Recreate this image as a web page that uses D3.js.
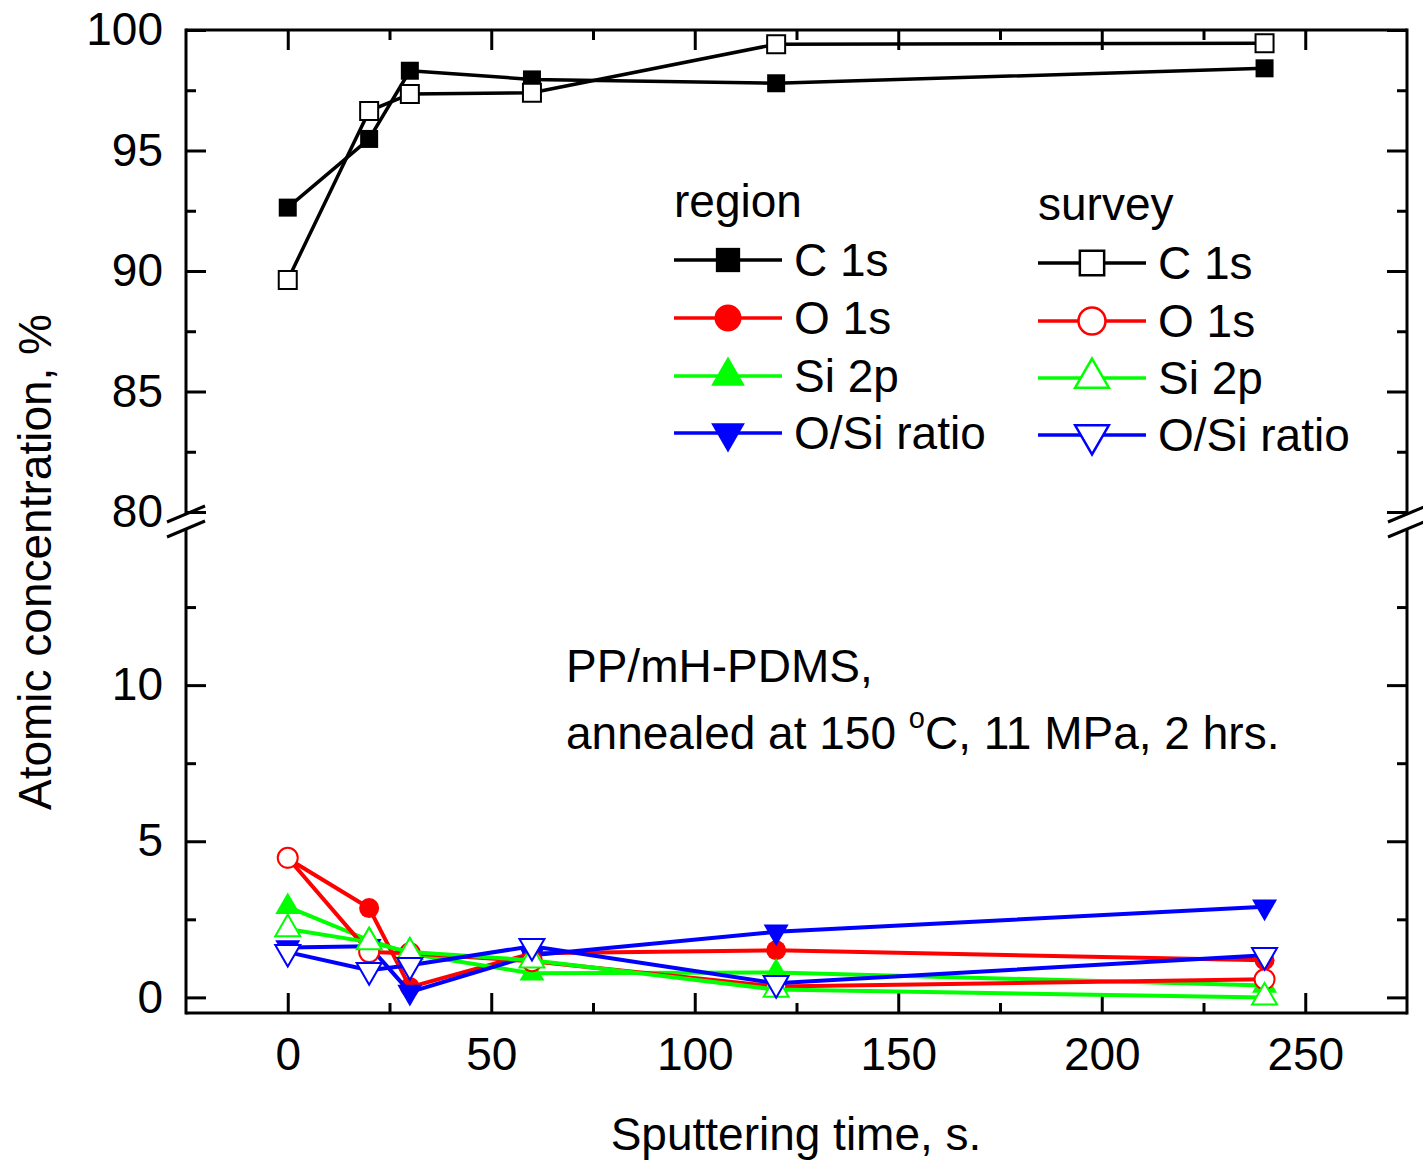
<!DOCTYPE html>
<html>
<head>
<meta charset="utf-8">
<script src="https://cdn.jsdelivr.net/npm/d3@7"></script>
<style>
  body { margin: 0; background: #fff; }
  svg text { font-family: "Liberation Sans", Arial, sans-serif; fill: #000; }
</style>
</head>
<body>
<div id="chart"></div>
<script>
/* DATA */
const times = [0, 20, 30, 60, 120, 240];
const regionC = [92.63, 95.48, 98.31, 97.95, 97.79, 98.41];
const surveyC = [89.63, 96.64, 97.34, 97.40, 99.41, 99.45];
const regionO = [4.45, 2.86, 0.33, 1.41, 1.51, 1.19];
const surveyO = [4.47, 1.45, 1.41, 1.16, 0.35, 0.58];
const regionSi = [2.90, 1.83, 1.40, 0.77, 0.80, 0.38];
const surveySi = [2.19, 1.77, 1.45, 1.19, 0.25, 0.00];
const regionOSi = [1.60, 1.64, 0.17, 1.35, 2.10, 2.90];
const surveyOSi = [1.45, 0.87, 1.03, 1.64, 0.45, 1.35];

const xTicks = [0, 50, 100, 150, 200, 250];
const xMinor = [25, 75, 125, 175, 225];
const yTopTicks = [80, 85, 90, 95, 100];
const yTopMinor = [82.5, 87.5, 92.5, 97.5];
const yBotTicks = [0, 5, 10];
const yBotMinor = [2.5, 7.5, 12.5];

const series = [
  { name: "C 1s", group: "region", values: regionC, color: "#000", shape: "square", filled: true, part: "top" },
  { name: "O 1s", group: "region", values: regionO, color: "#ff0000", shape: "circle", filled: true, part: "bot" },
  { name: "Si 2p", group: "region", values: regionSi, color: "#00ff00", shape: "up", filled: true, part: "bot" },
  { name: "O/Si ratio", group: "region", values: regionOSi, color: "#0000ff", shape: "down", filled: true, part: "bot" },
  { name: "C 1s", group: "survey", values: surveyC, color: "#000", shape: "square", filled: false, part: "top" },
  { name: "O 1s", group: "survey", values: surveyO, color: "#ff0000", shape: "circle", filled: false, part: "bot" },
  { name: "Si 2p", group: "survey", values: surveySi, color: "#00ff00", shape: "up", filled: false, part: "bot" },
  { name: "O/Si ratio", group: "survey", values: surveyOSi, color: "#0000ff", shape: "down", filled: false, part: "bot" }
];

/* LAYOUT */
const W = 1423, H = 1163;
const margin = { left: 186, right: 1407, top: 30, bottom: 1013 };
const breakTop = 513, breakBot = 530;
const fontSize = 46;

const svg = d3.select("#chart").append("svg")
  .attr("width", W)
  .attr("height", H);

const x = d3.scaleLinear().domain([-25, 275]).range([margin.left, margin.right]);
const yTop = d3.scaleLinear().domain([80, 100]).range([512, margin.top]);
const yBot = d3.scaleLinear().domain([-0.5, 15]).range([margin.bottom, 529]);

// symbol paths
function symbolPath(shape, big) {
  const k = big ? 1.35 : 1;
  if (shape === "square") return d3.symbol(d3.symbolSquare, 18 * 18 * k * k)();
  if (shape === "circle") return d3.symbol(d3.symbolCircle, Math.PI * 100 * k * k)();
  return d3.symbol(d3.symbolTriangle, 0.433 * 25 * 25 * k * k)();
}
function symbolTransform(shape, cx, cy) {
  return shape === "down" ? `translate(${cx},${cy}) rotate(180)` : `translate(${cx},${cy})`;
}

/* AXES */
function styleAxis(g) {
  g.select(".domain").remove();
  g.selectAll(".tick line").attr("stroke", "#000").attr("stroke-width", 3);
  g.selectAll(".tick text").attr("font-size", fontSize).attr("fill", "#000")
    .attr("font-family", "Liberation Sans, Arial, sans-serif");
}

// bottom
svg.append("g").attr("transform", `translate(0,${margin.bottom})`)
  .call(d3.axisBottom(x).tickValues(xTicks).tickSizeInner(-20).tickSizeOuter(0).tickPadding(24).tickFormat(d3.format("d")))
  .call(styleAxis);
svg.append("g").attr("transform", `translate(0,${margin.bottom})`)
  .call(d3.axisBottom(x).tickValues(xMinor).tickSizeInner(-10).tickSizeOuter(0).tickFormat(""))
  .call(styleAxis);
// top
svg.append("g").attr("transform", `translate(0,${margin.top})`)
  .call(d3.axisTop(x).tickValues(xTicks).tickSizeInner(-20).tickSizeOuter(0).tickFormat(""))
  .call(styleAxis);
svg.append("g").attr("transform", `translate(0,${margin.top})`)
  .call(d3.axisTop(x).tickValues(xMinor).tickSizeInner(-10).tickSizeOuter(0).tickFormat(""))
  .call(styleAxis);

// left + right, two segments each
[[yTop, yTopTicks, yTopMinor], [yBot, yBotTicks, yBotMinor]].forEach(([sc, major, minor]) => {
  svg.append("g").attr("transform", `translate(${margin.left},0)`)
    .call(d3.axisLeft(sc).tickValues(major).tickSizeInner(-20).tickSizeOuter(0).tickPadding(23).tickFormat(d3.format("d")))
    .call(styleAxis);
  svg.append("g").attr("transform", `translate(${margin.left},0)`)
    .call(d3.axisLeft(sc).tickValues(minor).tickSizeInner(-10).tickSizeOuter(0).tickFormat(""))
    .call(styleAxis);
  svg.append("g").attr("transform", `translate(${margin.right},0)`)
    .call(d3.axisRight(sc).tickValues(major).tickSizeInner(-20).tickSizeOuter(0).tickFormat(""))
    .call(styleAxis);
  svg.append("g").attr("transform", `translate(${margin.right},0)`)
    .call(d3.axisRight(sc).tickValues(minor).tickSizeInner(-10).tickSizeOuter(0).tickFormat(""))
    .call(styleAxis);
});

// frame
const frame = svg.append("g").attr("stroke", "#000").attr("stroke-width", 3).attr("fill", "none");
frame.append("line").attr("x1", margin.left).attr("x2", margin.right).attr("y1", margin.top).attr("y2", margin.top);
frame.append("line").attr("x1", margin.left).attr("x2", margin.right).attr("y1", margin.bottom).attr("y2", margin.bottom);
[margin.left, margin.right].forEach(xx => {
  frame.append("line").attr("x1", xx).attr("x2", xx).attr("y1", margin.top - 1.5).attr("y2", breakTop);
  frame.append("line").attr("x1", xx).attr("x2", xx).attr("y1", breakBot).attr("y2", margin.bottom + 1.5);
  // break marks
  [breakTop + 1, breakBot - 1].forEach(yy => {
    frame.append("line").attr("x1", xx - 19).attr("x2", xx + 19)
      .attr("y1", yy + 8).attr("y2", yy - 8);
  });
});

/* SERIES */
series.forEach(s => {
  const ys = s.part === "top" ? yTop : yBot;
  const pts = times.map((t, i) => [x(t), ys(s.values[i])]);
  svg.append("path")
    .attr("d", d3.line()(pts))
    .attr("fill", "none")
    .attr("stroke", s.color)
    .attr("stroke-width", s.color === "#000" ? 3.5 : 4)
    .attr("stroke-linejoin", "round");
  svg.append("g").selectAll("path")
    .data(pts)
    .join("path")
    .attr("d", symbolPath(s.shape, false))
    .attr("transform", d => symbolTransform(s.shape, d[0], d[1]))
    .attr("fill", s.filled ? s.color : "#fff")
    .attr("stroke", s.filled ? "none" : s.color)
    .attr("stroke-width", 2);
});

/* LEGEND */
const legendCols = { region: { x: 674, titleY: 217 }, survey: { x: 1038, titleY: 220 } };
const rowY = { region: [260, 318, 376, 433], survey: [263, 321, 378, 435] };
Object.keys(legendCols).forEach(grp => {
  const c = legendCols[grp];
  svg.append("text").attr("x", c.x).attr("y", c.titleY).attr("font-size", fontSize).text(grp);
  series.filter(s => s.group === grp).forEach((s, i) => {
    const yy = rowY[grp][i];
    svg.append("line").attr("x1", c.x).attr("x2", c.x + 108).attr("y1", yy).attr("y2", yy)
      .attr("stroke", s.color).attr("stroke-width", 3.5);
    svg.append("path")
      .attr("d", symbolPath(s.shape, true))
      .attr("transform", symbolTransform(s.shape, c.x + 54, yy))
      .attr("fill", s.filled ? s.color : "#fff")
      .attr("stroke", s.filled ? "none" : s.color)
      .attr("stroke-width", 2.5);
    svg.append("text").attr("x", c.x + 120).attr("y", yy + 16).attr("font-size", fontSize).text(s.name);
  });
});

/* ANNOTATION + AXIS TITLES */
svg.append("text").attr("x", 566).attr("y", 682).attr("font-size", fontSize).text("PP/mH-PDMS,");
const ann = svg.append("text").attr("x", 566).attr("y", 749).attr("font-size", fontSize);
ann.append("tspan").text("annealed at 150 ");
ann.append("tspan").attr("dy", -21).attr("font-size", 29).text("o");
ann.append("tspan").attr("dy", 21).text("C, 11 MPa, 2 hrs.");

svg.append("text").attr("x", 796).attr("y", 1150).attr("text-anchor", "middle")
  .attr("font-size", fontSize).text("Sputtering time, s.");
svg.append("text").attr("transform", "translate(51,562) rotate(-90)").attr("text-anchor", "middle")
  .attr("font-size", fontSize).text("Atomic concentration, %");
</script>
</body>
</html>
